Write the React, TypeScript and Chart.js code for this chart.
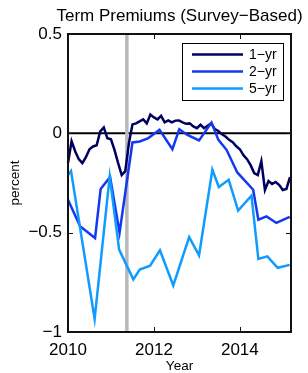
import React, { useEffect, useRef } from "react";
import { Chart, registerables } from "chart.js";

Chart.register(...registerables);

// ---- data ----
const oneYrMonths = [
  "2010-01","2010-02","2010-03","2010-04","2010-05","2010-06","2010-07","2010-08","2010-09","2010-10","2010-11","2010-12",
  "2011-01","2011-02","2011-03","2011-04","2011-05","2011-06","2011-07","2011-08","2011-09","2011-10","2011-11","2011-12",
  "2012-01","2012-02","2012-03","2012-04","2012-05","2012-06","2012-07","2012-08","2012-09","2012-10","2012-11","2012-12",
  "2013-01","2013-02","2013-03","2013-04","2013-05","2013-06","2013-07","2013-08","2013-09","2013-10","2013-11","2013-12",
  "2014-01","2014-02","2014-03","2014-04","2014-05","2014-06","2014-07","2014-08","2014-09","2014-10","2014-11","2014-12",
  "2015-01","2015-02","2015-03",
];
const oneYrValues = [
  -0.15, -0.04, -0.09, -0.13, -0.15, -0.12, -0.08, -0.066, -0.06, 0.01, 0.03, -0.025,
  -0.03, -0.085, -0.15, -0.21, -0.19, -0.05, 0.045, 0.05, 0.06, 0.07, 0.05, 0.095,
  0.08, 0.07, 0.088, 0.055, 0.065, 0.055, 0.064, 0.065, 0.055, 0.048, 0.05, 0.035,
  0.026, 0.043, 0.026, 0.038, 0.051, 0.021, 0.012, -0.005, -0.016, -0.033, -0.045, -0.065,
  -0.08, -0.11, -0.13, -0.16, -0.2, -0.21, -0.14, -0.285, -0.24, -0.255, -0.245, -0.26,
  -0.285, -0.28, -0.22,
];

const twoYrYears = [
  2010.0, 2010.28, 2010.63, 2010.76, 2010.98, 2011.2, 2011.5, 2011.67, 2011.87, 2012.13,
  2012.43, 2012.59, 2012.78, 2013.05, 2013.34, 2013.5, 2013.69, 2013.94, 2014.31, 2014.43,
  2014.62, 2014.85, 2015.16,
];
const twoYrValues = [
  -0.334, -0.468, -0.527, -0.28, -0.22, -0.5, -0.046, -0.041, -0.024, 0.018,
  -0.08, 0.021, -0.008, -0.036, 0.054, -0.033, -0.083, -0.197, -0.284, -0.435,
  -0.418, -0.451, -0.421,
];

const fiveYrYears = [
  2010.0, 2010.07, 2010.62, 2010.97, 2011.19, 2011.52, 2011.67, 2011.91, 2012.14, 2012.45,
  2012.82, 2013.05, 2013.36, 2013.51, 2013.74, 2013.96, 2014.27, 2014.43, 2014.64, 2014.88,
  2015.16,
];
const fiveYrValues = [
  -0.21, -0.19, -0.934, -0.217, -0.585, -0.735, -0.686, -0.666, -0.589, -0.766,
  -0.522, -0.614, -0.183, -0.27, -0.234, -0.389, -0.314, -0.632, -0.619, -0.677,
  -0.662,
];

const seriesLabels = ["1\u2212yr", "2\u2212yr", "5\u2212yr"];
const seriesColors = ["#00005f", "#1438f0", "#109cff"];
const eventYear = 2011.37;
const xTicks = [2010, 2012, 2014];
const yTicks = [0.5, 0, -0.5, -1];
const titleText = "Term Premiums (Survey\u2212Based)";
const xLabel = "Year";
const yLabel = "percent";

const FONT = "'Liberation Sans', Arial, Helvetica, sans-serif";

function monthToYear(m: string): number {
  const [y, mo] = m.split("-").map(Number);
  return y + (mo - 1) / 12;
}

const fmt = (v: number) => (v === 0 ? "0" : String(v).replace("-", "\u2212"));

const decor = {
  id: "decor",
  beforeDatasetsDraw(chart: any) {
    const { ctx, chartArea: a, scales } = chart;
    ctx.save();
    // zero line
    const y0 = scales.y.getPixelForValue(0);
    ctx.strokeStyle = "#000";
    ctx.lineWidth = 2;
    ctx.beginPath();
    ctx.moveTo(a.left, y0);
    ctx.lineTo(a.right, y0);
    ctx.stroke();
    // event line
    const xe = scales.x.getPixelForValue(eventYear);
    ctx.strokeStyle = "#b9b9b9";
    ctx.lineWidth = 3.5;
    ctx.beginPath();
    ctx.moveTo(xe, a.top);
    ctx.lineTo(xe, a.bottom);
    ctx.stroke();
    ctx.restore();
  },
  afterDatasetsDraw(chart: any) {
    const { ctx, chartArea: a, scales } = chart;
    ctx.save();
    // box
    ctx.strokeStyle = "#111";
    ctx.lineWidth = 2;
    ctx.strokeRect(a.left, a.top, a.right - a.left, a.bottom - a.top);
    // inward ticks
    ctx.lineWidth = 1;
    const tl = 5;
    ctx.beginPath();
    xTicks.forEach((v) => {
      const x = Math.round(scales.x.getPixelForValue(v)) + 0.5;
      ctx.moveTo(x, a.bottom);
      ctx.lineTo(x, a.bottom - tl);
      ctx.moveTo(x, a.top);
      ctx.lineTo(x, a.top + tl);
    });
    yTicks.forEach((v) => {
      const y = Math.round(scales.y.getPixelForValue(v)) + 0.5;
      ctx.moveTo(a.left, y);
      ctx.lineTo(a.left + tl, y);
      ctx.moveTo(a.right, y);
      ctx.lineTo(a.right - tl, y);
    });
    ctx.stroke();
    // legend
    const lx = a.right - 109;
    const ly = a.top + 9;
    const lw = 101;
    const lh = 57;
    ctx.fillStyle = "#fff";
    ctx.fillRect(lx, ly, lw, lh);
    ctx.strokeStyle = "#000";
    ctx.lineWidth = 1;
    ctx.strokeRect(lx + 0.5, ly + 0.5, lw, lh);
    ctx.font = `14px ${FONT}`;
    ctx.textBaseline = "middle";
    ctx.textAlign = "left";
    seriesLabels.forEach((lab, i) => {
      const yy = ly + 11.5 + i * 17;
      ctx.strokeStyle = seriesColors[i];
      ctx.lineWidth = 2.5;
      ctx.beginPath();
      ctx.moveTo(lx + 10, yy);
      ctx.lineTo(lx + 61, yy);
      ctx.stroke();
      ctx.fillStyle = "#000";
      ctx.fillText(lab, lx + 67, yy + 0.5);
    });
    ctx.restore();
  },
  afterDraw(chart: any) {
    const { ctx, chartArea: a } = chart;
    ctx.save();
    ctx.fillStyle = "#000";
    ctx.textAlign = "center";
    ctx.textBaseline = "middle";
    ctx.font = `17px ${FONT}`;
    ctx.fillText(titleText, (a.left + a.right) / 2, 16);
    ctx.font = `13.5px ${FONT}`;
    ctx.fillText(xLabel, (a.left + a.right) / 2, 366.5);
    ctx.translate(15, (a.top + a.bottom) / 2);
    ctx.rotate(-Math.PI / 2);
    ctx.fillText(yLabel, 0, 0);
    ctx.restore();
  },
};

export default function App() {
  const ref = useRef<HTMLCanvasElement | null>(null);
  useEffect(() => {
    if (!ref.current) return;
    const mk = (xs: number[], ys: number[]) => xs.map((x, i) => ({ x, y: ys[i] }));
    const chart = new Chart(ref.current, {
      type: "scatter",
      data: {
        datasets: [
          {
            label: seriesLabels[0],
            data: mk(oneYrMonths.map(monthToYear), oneYrValues),
            borderColor: seriesColors[0],
            order: 3,
          },
          {
            label: seriesLabels[1],
            data: mk(twoYrYears, twoYrValues),
            borderColor: seriesColors[1],
            order: 2,
          },
          {
            label: seriesLabels[2],
            data: mk(fiveYrYears, fiveYrValues),
            borderColor: seriesColors[2],
            order: 1,
          },
        ].map((d) => ({
          ...d,
          showLine: true,
          borderWidth: 2.5,
          pointRadius: 0,
          tension: 0,
          fill: false,
          clip: 2,
        })) as any,
      },
      options: {
        animation: false,
        responsive: false,
        devicePixelRatio: 1,
        events: [],
        layout: { padding: { top: 34, right: 17, left: 0, bottom: 0 } },
        plugins: { legend: { display: false }, tooltip: { enabled: false }, title: { display: false } },
        scales: {
          x: {
            type: "linear",
            min: 2010,
            max: 2015.19,
            grid: { display: false, drawTicks: false },
            border: { display: false },
            afterFit: (s: any) => {
              s.height = 41;
            },
            afterBuildTicks: (s: any) => {
              s.ticks = xTicks.map((v) => ({ value: v }));
            },
            ticks: {
              padding: 8,
              color: "#000",
              font: { family: FONT, size: 17 },
              maxRotation: 0,
              callback: (v: any) => String(v),
            },
          },
          y: {
            type: "linear",
            min: -1,
            max: 0.5,
            grid: { display: false, drawTicks: false },
            border: { display: false },
            afterFit: (s: any) => {
              s.width = 68;
            },
            afterBuildTicks: (s: any) => {
              s.ticks = yTicks.map((v) => ({ value: v }));
            },
            ticks: {
              padding: 6,
              color: "#000",
              font: { family: FONT, size: 17 },
              callback: (v: any) => fmt(Number(v)),
            },
          },
        },
      },
      plugins: [decor],
    });
    return () => chart.destroy();
  }, []);
  return (
    <div style={{ position: "fixed", left: 0, top: 0, width: 308, height: 373, background: "#fff" }}>
      <canvas ref={ref} width={308} height={373} style={{ width: 308, height: 373, display: "block" }} />
    </div>
  );
}
